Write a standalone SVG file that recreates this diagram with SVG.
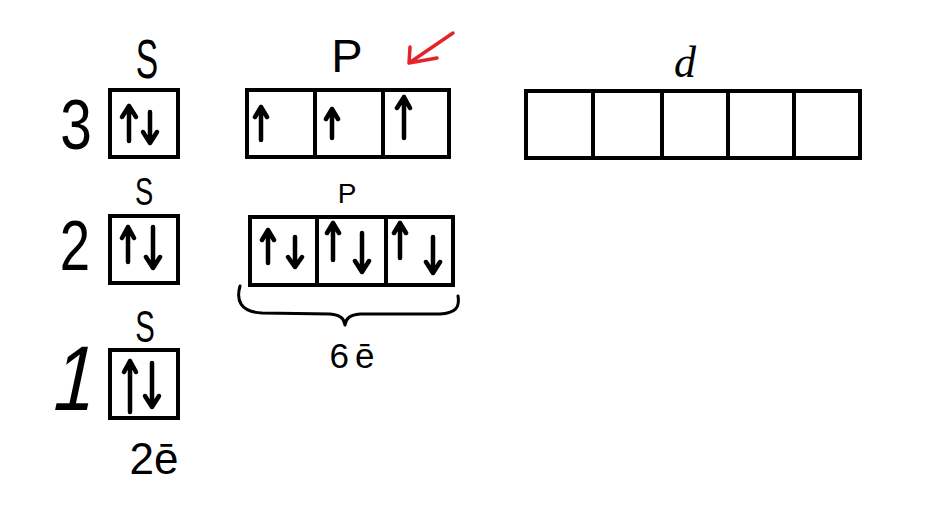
<svg xmlns="http://www.w3.org/2000/svg" width="943" height="506" viewBox="0 0 943 506">
<style>
.box{fill:none;stroke:#000;stroke-width:4;stroke-linejoin:miter}
.sp{fill:none;stroke:#000;stroke-width:4.5;stroke-linecap:round;stroke-linejoin:round}
.lbl{font-family:"Liberation Sans",Arial,sans-serif;fill:#000;text-anchor:middle}
.red{fill:none;stroke:#e3242b;stroke-width:3.5;stroke-linecap:round;stroke-linejoin:round}
.br{fill:none;stroke:#000;stroke-width:3;stroke-linecap:round;stroke-linejoin:round}
</style>
<rect width="943" height="506" fill="#fff"/>

<!-- shell numbers -->
<g id="n3"><text class="lbl" transform="translate(76,149) scale(0.8,1)" font-size="71">3</text></g>
<g id="n2"><text class="lbl" transform="translate(75,270) scale(0.78,1)" font-size="70">2</text></g>
<g id="n1"><text class="lbl" transform="translate(70,410) skewX(-12) scale(0.8,1)" font-size="92">1</text></g>

<!-- 3s -->
<g id="s3">
<text class="lbl" transform="translate(147,78) scale(0.6,1)" font-size="56">S</text>
<rect class="box" x="110" y="90" width="68" height="67"/>
<path class="sp" d="M129,141 V106 M122,117 L129,106 L136,117 M150,112 V143 M143,132 L150,143 L157,132"/>
</g>

<!-- 3p -->
<g id="p3">
<text class="lbl" x="347" y="72" font-size="47">P</text>
<rect class="box" x="247" y="90" width="202" height="67"/>
<path class="box" d="M315,90 V157 M383,90 V157"/>
<path class="sp" d="M261,140 V107 M255,117 L261,107 L267,117 M332,138 V109 M326,119 L332,109 L338,119 M404,138 V97 M397,108 L404,97 L410,108"/>
</g>

<!-- 3d -->
<g id="d3">
<text x="685" y="77" font-family="'Liberation Serif','Times New Roman',serif" font-style="italic" font-size="44" text-anchor="middle" fill="#000">d</text>
<rect class="box" x="526" y="91" width="334" height="67"/>
<path class="box" d="M593,91 V158 M662,91 V158 M728,91 V158 M794,91 V158"/>
</g>

<!-- 2s -->
<g id="s2">
<text class="lbl" transform="translate(144,205) scale(0.7,1)" font-size="39">S</text>
<rect class="box" x="110" y="216" width="68" height="67"/>
<path class="sp" d="M128,262 V227 M122,238 L128,227 L134,238 M153,227 V268 M146,257 L153,268 L160,257"/>
</g>

<!-- 2p -->
<g id="p2">
<text class="lbl" x="347" y="203" font-size="28">P</text>
<rect class="box" x="250" y="217" width="203" height="68"/>
<path class="box" d="M317,217 V285 M386,217 V285"/>
<path class="sp" d="M268,263 V230 M262,240 L268,230 L274,240 M295,237 V267 M288,257 L295,267 L302,257 M333,260 V223 M327,233 L333,223 L339,233 M362,233 V272 M355,261 L362,272 L369,261 M400,258 V223 M394,233 L400,223 L406,233 M433,237 V273 M426,262 L433,273 L440,262"/>
</g>

<!-- 1s -->
<g id="s1">
<text class="lbl" transform="translate(145,342) scale(0.65,1)" font-size="45">S</text>
<rect class="box" x="110" y="350" width="68" height="68"/>
<path class="sp" d="M130,412 V361 M124,372 L130,361 L136,372 M152,363 V407 M145,396 L152,407 L159,396"/>
</g>

<!-- electron counts -->
<g id="e2"><text class="lbl" x="154" y="474" font-size="44">2ē</text></g>
<g id="e6"><text class="lbl" x="355" y="368" font-size="35" letter-spacing="6">6ē</text></g>

<g id="connectors">
<path class="br" d="M240,286 C236,300 240,312 262,313 L330,314 C340,315 344,318 345,325 C346,318 350,315 360,314 L440,314 C455,313 460,308 458,296"/>
<path class="red" d="M453,33 L409,63 M410,47 L409,63 L437,58"/>
</g>
</svg>
